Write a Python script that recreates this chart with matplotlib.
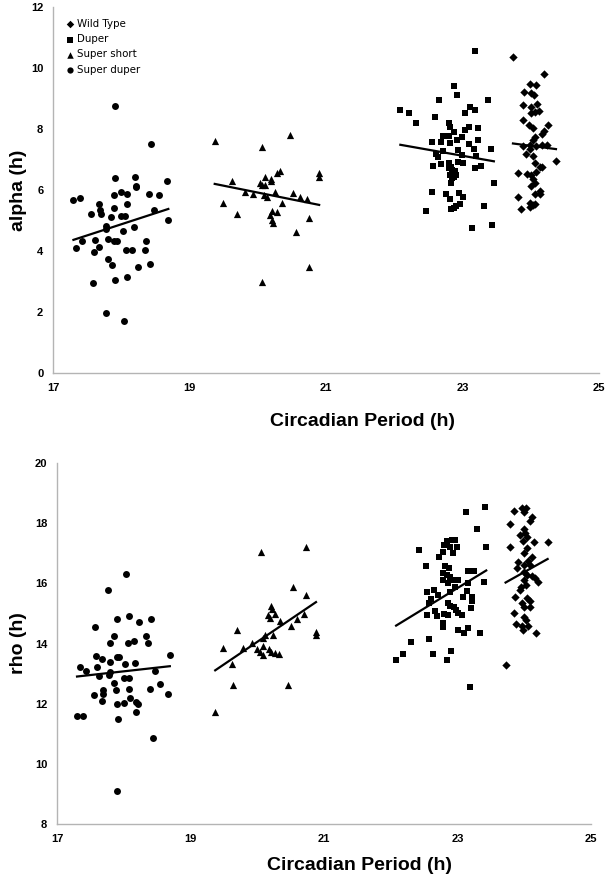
import numpy as np
import matplotlib.pyplot as plt

# ---- data ----
# top panel: alpha (h) vs circadian period (h)
alpha_sd_x = [17.30, 17.39, 17.34, 17.43, 17.56, 17.58, 17.60, 17.61, 17.67, 17.68,
              17.69, 17.70, 17.77, 17.78, 17.78, 17.81, 17.81, 17.85, 17.86, 17.89,
              17.90, 17.91, 17.91, 17.90, 17.94, 17.99, 18.00, 18.02, 18.04, 18.06,
              18.08, 18.09, 18.09, 18.07, 18.16, 18.18, 18.20, 18.21, 18.22, 18.24,
              18.35, 18.37, 18.41, 18.42, 18.44, 18.48, 18.56, 18.67, 18.69, 17.91]
alpha_sd_y = [5.66, 5.74, 4.09, 4.32, 5.20, 2.95, 3.96, 4.35, 4.14, 5.55,
              5.33, 5.20, 1.96, 4.82, 4.72, 4.39, 3.74, 5.11, 3.54, 5.40,
              5.85, 3.06, 6.38, 4.32, 4.34, 5.14, 5.92, 4.67, 1.70, 5.15,
              5.53, 5.88, 3.14, 4.02, 4.02, 4.79, 6.42, 6.14, 6.09, 3.49,
              4.04, 4.32, 5.87, 3.57, 7.51, 5.33, 5.85, 6.30, 5.00, 8.75]

alpha_ss_x = [19.37, 20.47, 20.07, 19.63, 19.49, 19.70, 19.81, 19.93, 20.03, 20.07,
              20.11, 20.11, 20.09, 20.14, 20.20, 20.20, 20.25, 20.28, 20.33, 20.36,
              20.21, 20.18, 20.28, 20.21, 20.22, 20.07, 20.52, 20.62, 20.72, 20.75,
              20.56, 20.75, 20.90, 20.90]
alpha_ss_y = [7.62, 7.80, 7.42, 6.28, 5.57, 5.20, 5.92, 5.87, 6.24, 6.15,
              6.44, 6.15, 5.84, 5.76, 6.37, 6.28, 5.92, 6.55, 6.63, 5.57,
              5.32, 5.18, 5.27, 5.02, 4.91, 2.98, 5.91, 5.78, 5.69, 5.07,
              4.62, 3.47, 6.55, 6.42]

alpha_du_x = [23.18, 22.09, 22.22, 22.32, 22.66, 22.87, 22.92, 23.37, 22.60, 23.03,
              23.11, 23.19, 22.81, 22.82, 22.88, 23.03, 23.09, 23.23, 22.72, 22.81,
              22.99, 22.92, 22.69, 22.55, 23.23, 22.82, 23.09, 22.94, 23.17, 23.42,
              22.72, 22.61, 22.64, 22.99, 23.20, 22.57, 22.68, 22.81, 22.94, 23.01,
              23.18, 23.27, 22.81, 22.83, 22.85, 22.89, 22.82, 22.87, 22.84, 22.91,
              22.83, 23.46, 22.55, 22.76, 22.95, 23.01, 22.82, 22.96, 22.90, 22.83,
              22.88, 23.32, 22.46, 23.14, 23.44]
alpha_du_y = [10.57, 8.62, 8.52, 8.20, 8.95, 9.41, 9.10, 8.95, 8.38, 8.52,
              8.72, 8.62, 8.19, 8.05, 7.90, 7.97, 8.08, 8.02, 7.77, 7.77,
              7.73, 7.64, 7.58, 7.56, 7.64, 7.53, 7.51, 7.31, 7.34, 7.33,
              7.29, 7.18, 7.09, 7.15, 7.12, 6.80, 6.84, 6.90, 6.93, 6.90,
              6.73, 6.79, 6.71, 6.74, 6.66, 6.63, 6.49, 6.44, 6.38, 6.49,
              6.22, 6.22, 5.93, 5.87, 5.91, 5.76, 5.69, 5.54, 5.49, 5.38,
              5.42, 5.48, 5.31, 4.74, 4.85]

alpha_wt_x = [23.74, 24.20, 23.99, 24.08, 23.90, 24.01, 24.05, 23.89, 24.09, 24.00,
              24.06, 24.12, 24.01, 23.89, 23.98, 24.03, 24.26, 24.19, 24.06, 24.04,
              24.16, 23.88, 23.99, 24.08, 24.17, 24.24, 23.93, 24.03, 23.99, 24.37,
              24.06, 24.13, 24.17, 23.82, 23.94, 24.01, 24.08, 24.04, 24.07, 24.00,
              24.13, 24.06, 24.14, 23.82, 23.99, 24.03, 24.07, 23.99, 23.86]
alpha_wt_y = [10.35, 9.80, 9.48, 9.44, 9.21, 9.19, 9.11, 8.79, 8.82, 8.71,
              8.57, 8.60, 8.51, 8.30, 8.13, 8.02, 8.13, 7.94, 7.75, 7.64,
              7.84, 7.44, 7.48, 7.44, 7.48, 7.48, 7.18, 7.11, 7.33, 6.96,
              6.88, 6.76, 6.76, 6.57, 6.52, 6.49, 6.60, 6.35, 6.24, 6.13,
              5.98, 5.87, 5.87, 5.78, 5.58, 5.51, 5.54, 5.45, 5.38]

# bottom panel: rho (h) vs circadian period (h)
rho_sd_x = [17.30, 17.39, 17.34, 17.43, 17.56, 17.57, 17.59, 17.60, 17.63, 17.67,
            17.69, 17.69, 17.68, 17.76, 17.78, 17.79, 17.80, 17.80, 17.85, 17.86,
            17.88, 17.90, 17.90, 17.93, 17.90, 17.91, 17.90, 18.00, 18.00, 18.02,
            18.04, 18.06, 18.08, 18.08, 18.08, 18.09, 18.15, 18.17, 18.19, 18.21,
            18.19, 18.23, 18.34, 18.36, 18.40, 18.41, 18.44, 18.47, 18.55, 18.66,
            18.69]
rho_sd_y = [11.59, 11.59, 13.23, 13.08, 12.30, 14.56, 13.60, 13.21, 12.93, 13.49,
            12.45, 12.32, 12.09, 15.78, 12.95, 13.04, 13.38, 14.02, 12.70, 14.26,
            12.45, 14.80, 13.56, 13.56, 11.99, 11.48, 9.09, 12.84, 12.01, 13.31,
            16.30, 14.01, 12.85, 12.50, 14.92, 12.18, 14.09, 13.34, 12.07, 11.98,
            11.71, 14.72, 14.24, 14.01, 12.48, 14.80, 10.87, 13.08, 12.65, 12.32,
            13.62]

rho_ss_x = [20.06, 20.73, 20.54, 20.73, 20.20, 20.22, 20.16, 20.27, 20.19, 20.34,
            20.60, 20.70, 20.51, 19.69, 20.23, 20.12, 20.08, 20.88, 20.88, 19.92,
            19.79, 19.48, 20.08, 20.00, 20.04, 20.09, 20.18, 20.20, 20.27, 20.32,
            19.62, 19.37, 19.64, 20.46]
rho_ss_y = [17.03, 17.22, 15.87, 15.61, 15.25, 15.14, 14.95, 14.98, 14.84, 14.76,
            14.80, 14.97, 14.58, 14.45, 14.28, 14.28, 14.19, 14.37, 14.28, 14.01,
            13.86, 13.86, 13.92, 13.82, 13.73, 13.62, 13.82, 13.73, 13.67, 13.64,
            13.31, 11.72, 12.62, 12.62]

rho_du_x = [23.41, 23.12, 23.29, 22.84, 22.91, 22.96, 22.80, 22.89, 22.99, 22.43,
            23.43, 22.79, 22.93, 22.73, 22.53, 22.81, 22.87, 23.15, 23.24, 22.79,
            22.84, 22.89, 22.79, 22.91, 23.00, 22.86, 23.39, 23.16, 22.96, 22.65,
            22.55, 23.14, 22.89, 22.71, 23.08, 23.21, 22.61, 22.58, 22.86, 22.89,
            22.94, 23.21, 23.20, 22.67, 22.98, 22.54, 22.69, 22.80, 22.86, 23.01,
            23.06, 22.79, 22.79, 23.00, 23.09, 23.16, 23.34, 22.57, 22.30, 22.19,
            22.63, 22.90, 22.08, 22.84, 23.18]
rho_du_y = [18.55, 18.36, 17.80, 17.42, 17.44, 17.44, 17.28, 17.22, 17.20, 17.11,
            17.20, 17.05, 17.00, 16.87, 16.58, 16.58, 16.50, 16.42, 16.42, 16.33,
            16.28, 16.22, 16.11, 16.11, 16.11, 16.00, 16.05, 16.00, 15.89, 15.78,
            15.72, 15.76, 15.72, 15.61, 15.54, 15.54, 15.48, 15.36, 15.34, 15.25,
            15.22, 15.43, 15.17, 15.09, 15.11, 14.95, 14.91, 14.98, 14.95, 15.00,
            14.95, 14.67, 14.56, 14.45, 14.34, 14.51, 14.36, 14.15, 14.06, 13.65,
            13.65, 13.76, 13.45, 13.45, 12.55]

rho_wt_x = [23.84, 23.97, 24.03, 23.99, 24.11, 24.09, 23.79, 23.99, 24.01, 23.94,
            24.04, 23.98, 24.14, 24.35, 23.79, 24.04, 23.99, 24.11, 23.91, 24.05,
            23.99, 24.09, 23.89, 23.99, 24.04, 24.11, 24.16, 24.21, 23.99, 23.95,
            24.03, 23.94, 23.86, 24.04, 24.09, 23.97, 23.99, 24.08, 23.85, 23.99,
            24.03, 23.87, 23.97, 24.06, 23.98, 24.18, 23.72]
rho_wt_y = [18.41, 18.50, 18.50, 18.36, 18.22, 18.08, 17.99, 17.80, 17.66, 17.61,
            17.53, 17.42, 17.36, 17.36, 17.20, 17.17, 17.02, 16.87, 16.72, 16.76,
            16.61, 16.61, 16.50, 16.39, 16.28, 16.24, 16.19, 16.06, 16.11, 15.87,
            15.95, 15.78, 15.54, 15.50, 15.42, 15.36, 15.22, 15.22, 15.02, 14.87,
            14.78, 14.65, 14.58, 14.58, 14.45, 14.34, 13.30]

x_ticks = [17, 19, 21, 23, 25]
alpha_ticks = [0, 2, 4, 6, 8, 10, 12]
rho_ticks = [8, 10, 12, 14, 16, 18, 20]

groups = ['Wild Type', 'Duper', 'Super short', 'Super duper']
markers = {'Wild Type': ('D', 18), 'Duper': ('s', 23),
           'Super short': ('^', 27), 'Super duper': ('o', 25)}

grey = '#b4b4b4'
bold = dict(family='Liberation Sans', weight='bold')


def trend(ax, x, y):
    # Excel-style linear trendline over the range of the data
    m, b = np.polyfit(x, y, 1)
    xs = np.array([min(x), max(x)])
    ax.plot(xs, m * xs + b, color='black', lw=1.6, zorder=3)


def style(ax, yticks, ylabel):
    ax.set_xlim(17, 25)
    ax.set_ylim(yticks[0], yticks[-1])
    ax.set_xticks(x_ticks)
    ax.set_yticks(yticks)
    ax.set_xticklabels([str(t) for t in x_ticks], fontsize=8, **bold)
    ax.set_yticklabels([str(t) for t in yticks], fontsize=8, **bold)
    ax.tick_params(length=0, pad=7)
    for s in ['top', 'right']:
        ax.spines[s].set_visible(False)
    for s in ['left', 'bottom']:
        ax.spines[s].set_color(grey)
        ax.spines[s].set_linewidth(1.0)
    ax.set_ylabel(ylabel, fontsize=14, **bold)
    ax.set_xlabel('Circadian Period (h)', fontsize=14, **bold)


fig = plt.figure(figsize=(6.11, 8.77), dpi=100)
ax1 = fig.add_axes([0.0867, 0.5747, 0.8936, 0.4173])
ax2 = fig.add_axes([0.0933, 0.0604, 0.874, 0.4116])

top = {'Wild Type': (alpha_wt_x, alpha_wt_y), 'Duper': (alpha_du_x, alpha_du_y),
       'Super short': (alpha_ss_x, alpha_ss_y), 'Super duper': (alpha_sd_x, alpha_sd_y)}
bottom = {'Wild Type': (rho_wt_x, rho_wt_y), 'Duper': (rho_du_x, rho_du_y),
          'Super short': (rho_ss_x, rho_ss_y), 'Super duper': (rho_sd_x, rho_sd_y)}

for ax, data in [(ax1, top), (ax2, bottom)]:
    for g in groups:
        x, y = data[g]
        mk, sz = markers[g]
        ax.scatter(x, y, marker=mk, s=sz, color='black', linewidths=0, label=g, zorder=2)
        trend(ax, x, y)

style(ax1, alpha_ticks, 'alpha (h)')
style(ax2, rho_ticks, 'rho (h)')
ax1.yaxis.set_label_coords(-0.048, 0.5)
ax2.yaxis.set_label_coords(-0.056, 0.5)
ax1.xaxis.set_label_coords(0.566, -0.108)
ax2.xaxis.set_label_coords(0.567, -0.092)

ax1.legend(loc='upper left', bbox_to_anchor=(0.024, 0.967), frameon=False,
           prop={'family': 'DejaVu Sans', 'size': 7.4}, markerscale=0.9,
           handlelength=0.8, handletextpad=0.3, labelspacing=0.5,
           borderpad=0, borderaxespad=0)

fig.savefig('out.png', dpi=100)
